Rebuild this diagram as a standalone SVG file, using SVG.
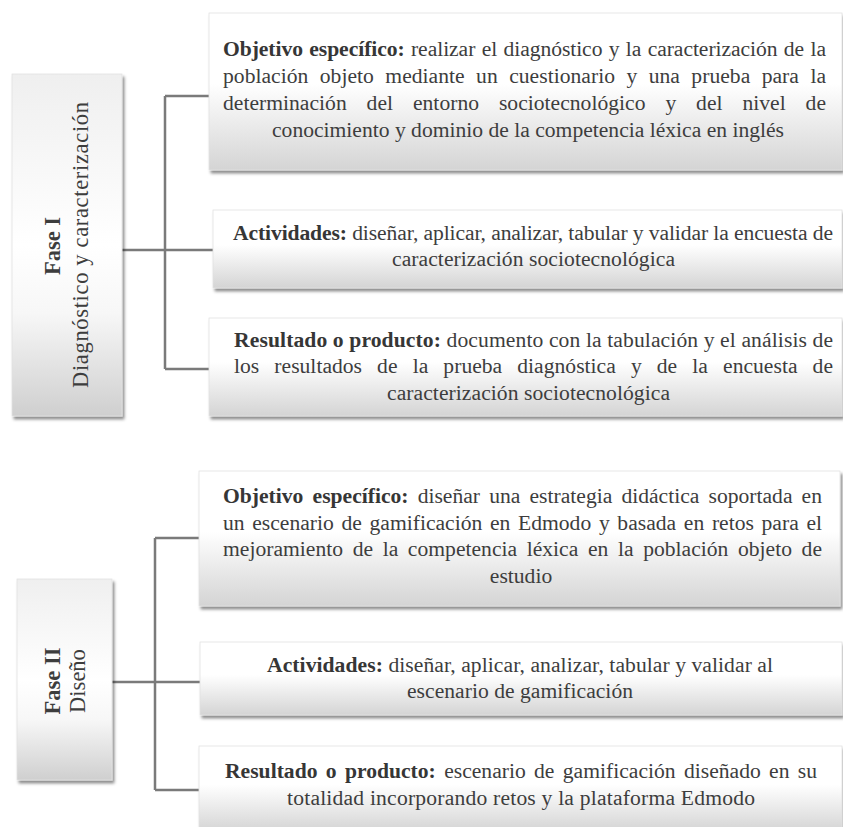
<svg xmlns="http://www.w3.org/2000/svg" width="843" height="827" viewBox="0 0 843 827">
<defs>
<linearGradient id="gBox" x1="0" y1="0" x2="0" y2="1">
<stop offset="0" stop-color="#ffffff"/>
<stop offset="0.45" stop-color="#ffffff"/>
<stop offset="1" stop-color="#d4d4d4"/>
</linearGradient>
<linearGradient id="gFase" x1="0" y1="0" x2="0" y2="1">
<stop offset="0" stop-color="#efefef"/>
<stop offset="0.5" stop-color="#ffffff"/>
<stop offset="0.7" stop-color="#f7f7f7"/>
<stop offset="1" stop-color="#cfcfcf"/>
</linearGradient>
<filter id="shadow" x="-5%" y="-10%" width="115%" height="130%">
<feDropShadow dx="2" dy="3" stdDeviation="1.6" flood-color="#000" flood-opacity="0.45"/>
</filter>
</defs>
<style>
.box{fill:url(#gBox);stroke:#e2e2e2;stroke-width:0.8;filter:url(#shadow)}
.fase{fill:url(#gFase);stroke:#e2e2e2;stroke-width:0.8;filter:url(#shadow)}
.t{font-family:"Liberation Serif","Times New Roman",serif;font-size:21.6px;fill:#3d3d3d}
.b{font-weight:bold;fill:#363636}
.ft{font-family:"Liberation Serif","Times New Roman",serif;font-size:22.5px;fill:#3d3d3d}
.conn{fill:none;stroke:#7a7a7a;stroke-width:2.5}
</style>
<rect width="843" height="827" fill="#ffffff"/>

<g id="connectors">
<path class="conn" d="M122,250 H165 M165,96 V369 M165,96 H209 M165,250 H213 M165,369 H209"/>
<path class="conn" d="M112,682 H155 M155,538 V790 M155,538 H199 M155,682 H200 M155,790 H199"/>
</g>

<g id="fase1">
<rect class="fase" x="12" y="74" width="110" height="342"/>
<text class="ft b" transform="translate(60,246) rotate(-90)" text-anchor="middle">Fase I</text>
<text class="ft" transform="translate(87.5,245) rotate(-90)" text-anchor="middle" textLength="286" lengthAdjust="spacing">Diagnóstico y caracterización</text>
</g>

<g id="f1-objetivo">
<rect class="box" x="209" y="13" width="633" height="157"/>
<text class="t" x="223" y="56" word-spacing="1" textLength="603" lengthAdjust="spacing"><tspan class="b">Objetivo específico:</tspan> realizar el diagnóstico y la caracterización de la</text>
<text class="t" x="223" y="83" word-spacing="6" textLength="603" lengthAdjust="spacing">población objeto mediante un cuestionario y una prueba para la</text>
<text class="t" x="223" y="110" word-spacing="14.5" textLength="603" lengthAdjust="spacing">determinación del entorno sociotecnológico y del nivel de</text>
<text class="t" x="272" y="137" textLength="512" lengthAdjust="spacing">conocimiento y dominio de la competencia léxica en inglés</text>
</g>

<g id="f1-actividades">
<rect class="box" x="213" y="210" width="629" height="78"/>
<text class="t" x="233" y="240" textLength="600" lengthAdjust="spacing"><tspan class="b">Actividades:</tspan> diseñar, aplicar, analizar, tabular y validar la encuesta de</text>
<text class="t" x="392" y="266" textLength="283" lengthAdjust="spacing">caracterización sociotecnológica</text>
</g>

<g id="f1-resultado">
<rect class="box" x="209" y="318" width="633" height="98"/>
<text class="t" x="234" y="347" textLength="599" lengthAdjust="spacing"><tspan class="b">Resultado o producto:</tspan> documento con la tabulación y el análisis de</text>
<text class="t" x="234" y="373" word-spacing="9.7" textLength="599" lengthAdjust="spacing">los resultados de la prueba diagnóstica y de la encuesta de</text>
<text class="t" x="387" y="400" textLength="283" lengthAdjust="spacing">caracterización sociotecnológica</text>
</g>

<g id="fase2">
<rect class="fase" x="17" y="579" width="95" height="201"/>
<text class="ft b" transform="translate(60,681) rotate(-90)" text-anchor="middle">Fase II</text>
<text class="ft" transform="translate(85,681) rotate(-90)" text-anchor="middle">Diseño</text>
</g>

<g id="f2-objetivo">
<rect class="box" x="199" y="471" width="641" height="135"/>
<text class="t" x="223" y="503" word-spacing="3.7" textLength="599" lengthAdjust="spacing"><tspan class="b">Objetivo específico:</tspan> diseñar una estrategia didáctica soportada en</text>
<text class="t" x="223" y="530" word-spacing="2.3" textLength="599" lengthAdjust="spacing">un escenario de gamificación en Edmodo y basada en retos para el</text>
<text class="t" x="223" y="556" word-spacing="4.2" textLength="599" lengthAdjust="spacing">mejoramiento de la competencia léxica en la población objeto de</text>
<text class="t" x="521" y="583" text-anchor="middle">estudio</text>
</g>

<g id="f2-actividades">
<rect class="box" x="200" y="642" width="642" height="73"/>
<text class="t" x="267" y="672" textLength="506" lengthAdjust="spacing"><tspan class="b">Actividades:</tspan> diseñar, aplicar, analizar, tabular y validar al</text>
<text class="t" x="407" y="698" textLength="226" lengthAdjust="spacing">escenario de gamificación</text>
</g>

<g id="f2-resultado">
<rect class="box" x="199" y="746" width="643" height="86"/>
<text class="t" x="225" y="778" word-spacing="2.9" textLength="592" lengthAdjust="spacing"><tspan class="b">Resultado o producto:</tspan> escenario de gamificación diseñado en su</text>
<text class="t" x="287" y="805" textLength="468" lengthAdjust="spacing">totalidad incorporando retos y la plataforma Edmodo</text>
</g>
</svg>
